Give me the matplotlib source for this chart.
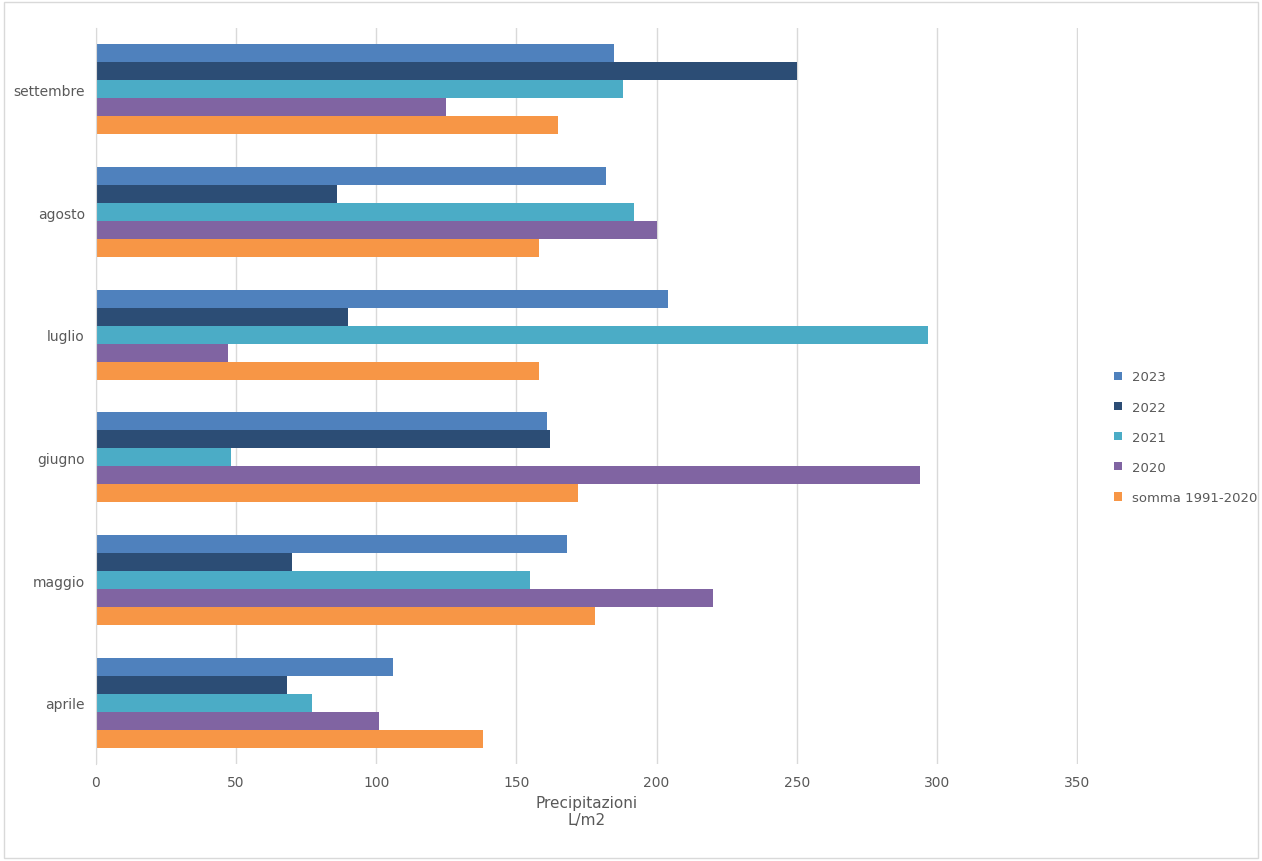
import numpy as np
from matplotlib import pyplot as plt

mesi = ["aprile", "maggio", "giugno", "luglio", "agosto", "settembre"]
serie = ["2023", "2022", "2021", "2020", "somma 1991-2020"]
v2023 = [106, 168, 161, 204, 182, 185]
v2022 = [68, 70, 162, 90, 86, 250]
v2021 = [77, 155, 48, 297, 192, 188]
v2020 = [101, 220, 294, 47, 200, 125]
somma = [138, 178, 172, 158, 158, 165]
colori = ["#4F81BD", "#2C4D75", "#4BACC6", "#8064A2", "#F79646"]

fig = plt.figure(figsize=(12.62, 8.62), dpi=100)
ax = fig.add_axes([96 / 1262, 97 / 862, 982 / 1262, 736 / 862])
y = np.arange(len(mesi))
h = 0.147
for i, (nome, vals) in enumerate(zip(serie, [v2023, v2022, v2021, v2020, somma])):
    ax.barh(y + (2 - i) * h, vals, height=h, color=colori[i], label=nome, zorder=2)

ax.set_xlim(0, 350.4)
ax.set_ylim(-0.5, 5.5)
ax.set_xticks(range(0, 351, 50))
ax.set_yticks(y)
ax.set_yticklabels(mesi)
ax.tick_params(length=0, labelsize=10, colors="#595959", pad=8)
ax.grid(axis="x", color="#d9d9d9", lw=1, zorder=0)
for s in ["top", "right", "bottom"]:
    ax.spines[s].set_visible(False)
ax.spines["left"].set_color("#d9d9d9")
ax.set_xlabel("Precipitazioni\nL/m2", color="#595959", fontsize=11, labelpad=4)
ax.legend(loc="center left", bbox_to_anchor=(1.025, 0.444), frameon=False,
          fontsize=9.5, labelcolor="#595959", handlelength=0.6, handleheight=0.6,
          handletextpad=0.7, labelspacing=1.3)
fig.patches.append(plt.Rectangle((0.003, 0.003), 0.994, 0.994, transform=fig.transFigure,
                                 fill=False, edgecolor="#d9d9d9", lw=1))
fig.savefig("out.png")
